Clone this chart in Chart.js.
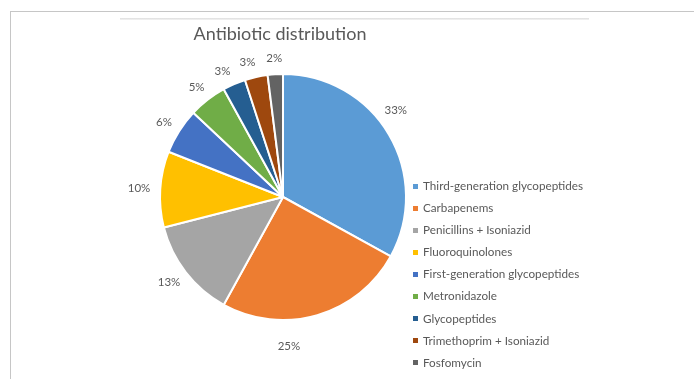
<!DOCTYPE html>
<html>
<head>
<meta charset="utf-8">
<script src="https://cdn.jsdelivr.net/npm/chart.js@4.4.1/dist/chart.umd.min.js"></script>
<style>
  html, body { margin: 0; padding: 0; background: #ffffff; }
  body { width: 694px; height: 379px; position: relative; overflow: hidden; font-family: Lato, "Open Sans", sans-serif; }
  #frameTop { position: absolute; left: 10px; top: 11px; width: 684px; height: 1px; background: #c6c6c6; }
  #frameLeft { position: absolute; left: 10px; top: 11px; width: 1px; height: 368px; background: #c6c6c6; }
  #innerTop { position: absolute; left: 120px; top: 18px; width: 469px; height: 2px; background: linear-gradient(#dedede, #f4f4f4); }
  #wrap { position: absolute; left: 0; top: 0; width: 694px; height: 379px; }
  #title { position: absolute; left: 130px; width: 300px; top: 22px; text-align: center; font-size: 18px; color: #595959; line-height: 22px; }
  #legend { position: absolute; left: 410px; top: 176px; margin: 0; padding: 0; list-style: none; }
  #legend li { height: 22.1px; line-height: 18px; font-size: 11.7px; color: #595959; white-space: nowrap; }
  #legend span.m { display: inline-block; width: 5px; height: 5px; margin: 0 5px 2px 3px; vertical-align: middle; }
</style>
</head>
<body>
<div id="frameTop"></div>
<div id="frameLeft"></div>
<div id="innerTop"></div>
<div id="wrap"><canvas id="c" width="694" height="379"></canvas></div>
<div id="title"></div>
<ul id="legend"></ul>
<script>
const chartTitle = "Antibiotic distribution";
const categories = [
  "Third-generation glycopeptides",
  "Carbapenems",
  "Penicillins + Isoniazid",
  "Fluoroquinolones",
  "First-generation glycopeptides",
  "Metronidazole",
  "Glycopeptides",
  "Trimethoprim + Isoniazid",
  "Fosfomycin"
];
const percentages = [33, 25, 13, 10, 6, 5, 3, 3, 2];
const sliceColors = ["#5B9BD5", "#ED7D31", "#A5A5A5", "#FFC000", "#4472C4", "#70AD47", "#255E91", "#9E480E", "#636363"];

// label placement style tweaks (angle shift in degrees, extra radial distance in px), as in the source chart
const labelAngleNudge = [-8, 14, 0, 0, 0, 0, -2, -2, 0];
const labelRadialNudge = [0, 10, 0, 0, 0, 0, 0, 0, 0];

document.getElementById("title").textContent = chartTitle;
const legendEl = document.getElementById("legend");
categories.forEach((name, i) => {
  const li = document.createElement("li");
  const m = document.createElement("span");
  m.className = "m";
  m.style.background = sliceColors[i];
  li.appendChild(m);
  li.appendChild(document.createTextNode(name));
  legendEl.appendChild(li);
});

const outsideLabels = {
  id: "outsideLabels",
  afterDatasetsDraw(chart) {
    const ctx = chart.ctx;
    const meta = chart.getDatasetMeta(0);
    const values = chart.data.datasets[0].data;
    ctx.save();
    ctx.font = "11.5px Lato, 'Open Sans', sans-serif";
    ctx.fillStyle = "#595959";
    ctx.textAlign = "center";
    ctx.textBaseline = "middle";
    meta.data.forEach((arc, i) => {
      const p = arc.getProps(["x", "y", "startAngle", "endAngle", "outerRadius"], true);
      const mid = (p.startAngle + p.endAngle) / 2 + labelAngleNudge[i] * Math.PI / 180;
      const txt = values[i] + "%";
      const w = ctx.measureText(txt).width;
      const h = 12;
      const R = p.outerRadius + 10 + labelRadialNudge[i];
      const lx = p.x + Math.cos(mid) * R + Math.cos(mid) * w / 2;
      const ly = p.y + Math.sin(mid) * R + Math.sin(mid) * h / 2;
      ctx.fillText(txt, lx, ly);
    });
    ctx.restore();
  }
};

new Chart(document.getElementById("c"), {
  type: "pie",
  data: {
    labels: categories,
    datasets: [{
      data: percentages,
      backgroundColor: sliceColors,
      borderColor: "#ffffff",
      borderWidth: 2
    }]
  },
  options: {
    responsive: false,
    animation: false,
    layout: { padding: { left: 159, right: 287, top: 73, bottom: 58 } },
    plugins: {
      legend: { display: false },
      title: { display: false },
      tooltip: { enabled: false }
    }
  },
  plugins: [outsideLabels]
});
</script>
</body>
</html>
